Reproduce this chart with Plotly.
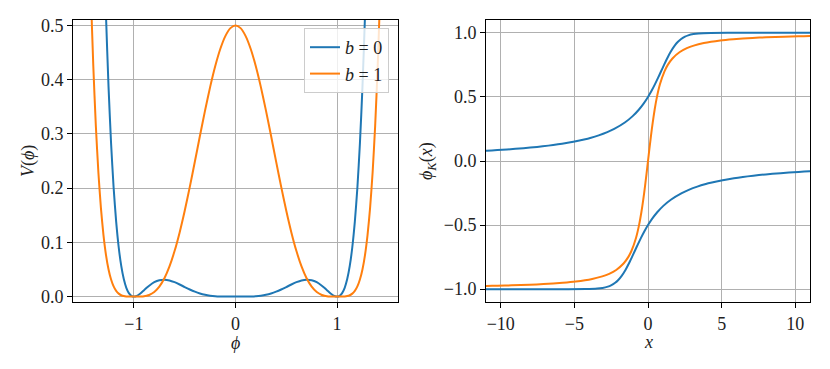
import plotly.graph_objects as go

# ---- left panel: potential V(phi) ----
phi = [-1.45, -1.425, -1.4, -1.375, -1.35, -1.325, -1.3, -1.275, -1.25, -1.225, -1.2,
       -1.175, -1.15, -1.125, -1.1, -1.075, -1.05, -1.025, -1.0, -0.975, -0.95, -0.925,
       -0.9, -0.875, -0.85, -0.8, -0.75, -0.7, -0.65, -0.6, -0.55, -0.5, -0.45, -0.4,
       -0.35, -0.3, -0.25, -0.2, -0.15, -0.1, -0.05, 0.0,
       0.05, 0.1, 0.15, 0.2, 0.25, 0.3, 0.35, 0.4, 0.45, 0.5, 0.55, 0.6, 0.65, 0.7,
       0.75, 0.8, 0.85, 0.875, 0.9, 0.925, 0.95, 0.975, 1.0, 1.025, 1.05, 1.075, 1.1,
       1.125, 1.15, 1.175, 1.2, 1.225, 1.25, 1.275, 1.3, 1.325, 1.35, 1.375, 1.4,
       1.425, 1.45]

V_b0 = [2.687, 2.190, 1.770, 1.418, 1.1235, 0.8799, 0.67989, 0.51718, 0.38624, 0.28219,
        0.20072, 0.13808, 0.09095, 0.05651, 0.03228, 0.01617, 0.00639, 0.00141, 0.0,
        0.00110, 0.00387, 0.00763, 0.01184, 0.01610, 0.02010, 0.02654, 0.03028, 0.03122,
        0.02977, 0.02654, 0.02226, 0.01758, 0.01304, 0.00903, 0.00578, 0.00335, 0.00172,
        0.00074, 0.00024, 0.00005, 0.0, 0.0,
        0.0, 0.00005, 0.00024, 0.00074, 0.00172, 0.00335, 0.00578, 0.00903, 0.01304,
        0.01758, 0.02226, 0.02654, 0.02977, 0.03122, 0.03028, 0.02654, 0.02010, 0.01610,
        0.01184, 0.00763, 0.00387, 0.00110, 0.0, 0.00141, 0.00639, 0.01617, 0.03228,
        0.05651, 0.09095, 0.13808, 0.20072, 0.28219, 0.38624, 0.51718, 0.67989, 0.8799,
        1.1235, 1.418, 1.770, 2.190, 2.687]

V_b1 = [0.73873, 0.56412, 0.42467, 0.31459, 0.22883, 0.16300, 0.11334, 0.0766, 0.05006,
        0.03141, 0.01874, 0.01049, 0.00541, 0.00249, 0.00097, 0.00029, 0.000055, 0.000003,
        0.0, 0.000003, 0.00005, 0.00022, 0.00065, 0.00151, 0.00297, 0.00840, 0.01832,
        0.03383, 0.05561, 0.08389, 0.11834, 0.15820, 0.20225, 0.24894, 0.29645, 0.34288,
        0.38624, 0.42467, 0.45650, 0.48030, 0.49502, 0.5,
        0.49502, 0.48030, 0.45650, 0.42467, 0.38624, 0.34288, 0.29645, 0.24894, 0.20225,
        0.15820, 0.11834, 0.08389, 0.05561, 0.03383, 0.01832, 0.00840, 0.00297, 0.00151,
        0.00065, 0.00022, 0.00005, 0.000003, 0.0, 0.000003, 0.000055, 0.00029, 0.00097,
        0.00249, 0.00541, 0.01049, 0.01874, 0.03141, 0.05006, 0.0766, 0.11334, 0.16300,
        0.22883, 0.31459, 0.42467, 0.56412, 0.73873]

# ---- right panel: kink profiles phi_K(x) ----
x_k0_up = [-11.808, -10.969, -10.229, -9.570, -8.449, -7.530, -6.762, -6.111, -5.551,
           -5.065, -4.260, -3.923, -3.347, -2.765, -2.294, -1.573, -1.041, -0.626, -0.287,
           0.0, 0.251, 0.477, 0.688, 0.889, 1.090, 1.299, 1.530, 1.812, 2.034, 2.230,
           2.512, 2.728, 3.087, 3.440, 4.250, 5.402, 8.0, 12.0]
phi_k0_up = [0.075, 0.08, 0.085, 0.09, 0.10, 0.11, 0.12, 0.13, 0.14, 0.15, 0.17, 0.18,
             0.20, 0.225, 0.25, 0.30, 0.35, 0.40, 0.45, 0.50, 0.55, 0.60, 0.65, 0.70,
             0.75, 0.80, 0.85, 0.90, 0.93, 0.95, 0.97, 0.98, 0.99, 0.995, 0.999, 0.9999,
             1.0, 1.0]

x_k0_low = [-12.0, -8.0, -5.402, -4.250, -3.440, -3.087, -2.728, -2.512, -2.230, -2.034,
            -1.812, -1.530, -1.299, -1.090, -0.889, -0.688, -0.477, -0.251, 0.0, 0.287,
            0.626, 1.041, 1.573, 2.294, 2.765, 3.347, 3.923, 4.260, 5.065, 5.551, 6.111,
            6.762, 7.530, 8.449, 9.570, 10.229, 10.969, 11.808]
phi_k0_low = [-1.0, -1.0, -0.9999, -0.999, -0.995, -0.99, -0.98, -0.97, -0.95, -0.93,
              -0.90, -0.85, -0.80, -0.75, -0.70, -0.65, -0.60, -0.55, -0.50, -0.45,
              -0.40, -0.35, -0.30, -0.25, -0.225, -0.20, -0.18, -0.17, -0.15, -0.14,
              -0.13, -0.12, -0.11, -0.10, -0.09, -0.085, -0.08, -0.075]

x_k1 = [-11.857, -10.965, -10.205, -9.2525, -8.0227, -7.0954, -5.7877, -4.9071, -3.7894,
        -3.1045, -2.6381, -2.1596, -1.6604, -1.3437, -1.1200, -0.8153, -0.6080, -0.4499,
        -0.3196, -0.2055, -0.1007, 0.0, 0.1007, 0.2055, 0.3196, 0.4499, 0.6080, 0.8153,
        1.1200, 1.3437, 1.6604, 2.1596, 2.6381, 3.1045, 3.7894, 4.9071, 5.7877, 7.0954,
        8.0227, 9.2525, 10.205, 10.965, 11.857]
phi_k1 = [-0.977, -0.975, -0.973, -0.97, -0.965, -0.96, -0.95, -0.94, -0.92, -0.90, -0.88,
          -0.85, -0.80, -0.75, -0.70, -0.60, -0.50, -0.40, -0.30, -0.20, -0.10, 0.0, 0.10,
          0.20, 0.30, 0.40, 0.50, 0.60, 0.70, 0.75, 0.80, 0.85, 0.88, 0.90, 0.92, 0.94,
          0.95, 0.96, 0.965, 0.97, 0.973, 0.975, 0.977]

BLUE = '#1f77b4'
ORANGE = '#ff7f0e'
FONT = 'Liberation Serif'
FS = 18

# the page puts an 8px margin round the figure, so work in figure pixels
W, H = 814, 353
OFF = 8


def px(v):
    return (v - OFF) / W


def py(v):
    return (H - (v - OFF)) / H


fig = go.Figure()

fig.add_trace(go.Scatter(x=phi, y=V_b0, mode='lines', name='<i>b</i> = 0',
                         line=dict(color=BLUE, width=2, shape='spline', smoothing=0.6),
                         xaxis='x', yaxis='y'))
fig.add_trace(go.Scatter(x=phi, y=V_b1, mode='lines', name='<i>b</i> = 1',
                         line=dict(color=ORANGE, width=2, shape='spline', smoothing=0.6),
                         xaxis='x', yaxis='y'))

fig.add_trace(go.Scatter(x=x_k0_up, y=phi_k0_up, mode='lines', showlegend=False,
                         line=dict(color=BLUE, width=2, shape='spline', smoothing=0.6),
                         xaxis='x2', yaxis='y2'))
fig.add_trace(go.Scatter(x=x_k0_low, y=phi_k0_low, mode='lines', showlegend=False,
                         line=dict(color=BLUE, width=2, shape='spline', smoothing=0.6),
                         xaxis='x2', yaxis='y2'))
fig.add_trace(go.Scatter(x=x_k1, y=phi_k1, mode='lines', showlegend=False,
                         line=dict(color=ORANGE, width=2, shape='spline', smoothing=0.6),
                         xaxis='x2', yaxis='y2'))

axis_style = dict(
    showline=True, mirror=True, linecolor='black', linewidth=1,
    ticks='outside', ticklen=5, tickwidth=1, tickcolor='black',
    showgrid=True, gridcolor='#b0b0b0', gridwidth=1,
    zeroline=False, automargin=False,
    tickfont=dict(family=FONT, size=FS, color='#222222'),
)

fig.update_layout(
    width=W, height=H,
    margin=dict(l=0, r=0, t=0, b=0),
    paper_bgcolor='white', plot_bgcolor='white',
    font=dict(family=FONT, size=FS, color='#222222'),
    xaxis=dict(domain=[px(73), px(398)], range=[-1.6, 1.6],
               tickvals=[-1, 0, 1], anchor='y', **axis_style),
    yaxis=dict(domain=[py(302), py(20)], range=[-0.01, 0.51],
               tickvals=[0, 0.1, 0.2, 0.3, 0.4, 0.5], tickformat='.1f',
               anchor='x', **axis_style),
    xaxis2=dict(domain=[px(486), px(810)], range=[-11, 11],
                tickvals=[-10, -5, 0, 5, 10], anchor='y2', **axis_style),
    yaxis2=dict(domain=[py(302), py(20)], range=[-1.1, 1.1],
                tickvals=[-1, -0.5, 0, 0.5, 1], tickformat='.1f',
                anchor='x2', **axis_style),
    legend=dict(x=px(389), y=py(28), xanchor='right', yanchor='top',
                bgcolor='rgba(255,255,255,0.8)', bordercolor='#cccccc', borderwidth=1,
                font=dict(family=FONT, size=FS), tracegroupgap=0),
    showlegend=True,
)

fig.add_annotation(text='<i>V</i>(<i>ϕ</i>)', xref='paper', yref='paper',
                   x=px(28), y=py(161), xanchor='center', yanchor='middle',
                   textangle=-90, showarrow=False, font=dict(family=FONT, size=FS))
fig.add_annotation(text='<i>ϕ</i><sub><i>K</i></sub>(<i>x</i>)', xref='paper', yref='paper',
                   x=px(427), y=py(161), xanchor='center', yanchor='middle',
                   textangle=-90, showarrow=False, font=dict(family=FONT, size=FS))
fig.add_annotation(text='<i>ϕ</i>', xref='x', yref='paper', x=0, y=py(343),
                   xanchor='center', yanchor='middle',
                   showarrow=False, font=dict(family=FONT, size=FS))
fig.add_annotation(text='<i>x</i>', xref='x2', yref='paper', x=0, y=py(342),
                   xanchor='center', yanchor='middle',
                   showarrow=False, font=dict(family=FONT, size=FS))

fig.write_html("out.html")
